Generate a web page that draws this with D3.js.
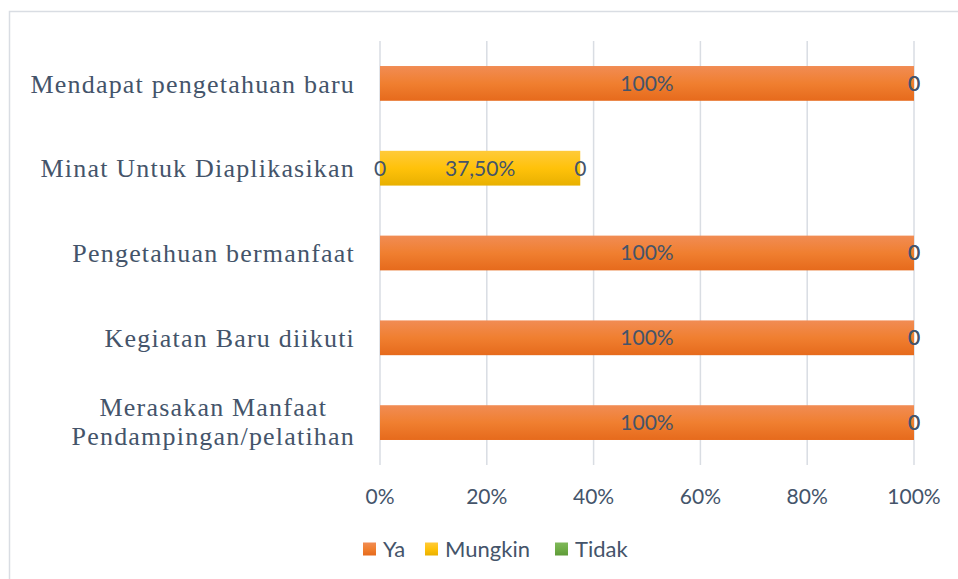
<!DOCTYPE html>
<html>
<head>
<meta charset="utf-8">
<script src="https://cdn.jsdelivr.net/npm/d3@7"></script>
<style>
  body { margin: 0; background: #fff; }
  svg { display: block; }
</style>
</head>
<body>
<svg id="canvas" width="958" height="579"></svg>
<script>
// data (top to bottom)
var categories = [
  ["Mendapat pengetahuan baru"],
  ["Minat Untuk Diaplikasikan"],
  ["Pengetahuan bermanfaat"],
  ["Kegiatan Baru diikuti"],
  ["Merasakan Manfaat", "Pendampingan/pelatihan"]
];
var series_names = ["Ya", "Mungkin", "Tidak"];
var ya      = [100, 0, 100, 100, 100];
var mungkin = [0, 37.5, 0, 0, 0];
var tidak   = [0, 0, 0, 0, 0];
var value_labels = [
  ["100%", "0", "0"],
  ["0", "37,50%", "0"],
  ["100%", "0", "0"],
  ["100%", "0", "0"],
  ["100%", "0", "0"]
];
var x_ticks = [0, 20, 40, 60, 80, 100];

var text_color = "#44546a";
var sans = "Lato, 'Open Sans', sans-serif";
var svg = d3.select("#canvas");

// gradients
var defs = svg.append("defs");
function grad(id, top, mid, bot) {
  var g = defs.append("linearGradient").attr("id", id).attr("x1", 0).attr("y1", 0).attr("x2", 0).attr("y2", 1);
  g.append("stop").attr("offset", "0%").attr("stop-color", top);
  g.append("stop").attr("offset", "50%").attr("stop-color", mid);
  g.append("stop").attr("offset", "100%").attr("stop-color", bot);
}
grad("g_ya", "#f18c54", "#f07f30", "#e66a1c");
grad("g_mungkin", "#ffca3a", "#ffc20a", "#e8b000");
grad("g_tidak", "#7fb85a", "#70ad47", "#5e9a38");
var fills = ["url(#g_ya)", "url(#g_mungkin)", "url(#g_tidak)"];

// frame
svg.append("rect").attr("x", 9.5).attr("y", 11.5).attr("width", 960).attr("height", 580)
  .attr("fill", "none").attr("stroke", "#d9dde3").attr("stroke-width", 1.5);

// scales
var xScale = d3.scaleLinear().domain([0, 100]).range([380, 914]);
var yScale = d3.scaleBand().domain(d3.range(categories.length)).range([41, 465]).paddingInner(0.59).paddingOuter(0.295);

// gridlines
svg.append("g").selectAll("line").data(x_ticks).join("line")
  .attr("x1", d => xScale(d)).attr("x2", d => xScale(d))
  .attr("y1", 41).attr("y2", 465)
  .attr("stroke", "#d9dde3").attr("stroke-width", 1.5);

// stacked bars
var rows = categories.map(function(c, i) { return [ya[i], mungkin[i], tidak[i]]; });
var stacked = [];
rows.forEach(function(r, i) {
  var acc = 0;
  r.forEach(function(v, s) {
    stacked.push({ row: i, s: s, x0: acc, x1: acc + v, label: value_labels[i][s] });
    acc += v;
  });
});

svg.append("g").selectAll("rect").data(stacked.filter(d => d.x1 > d.x0)).join("rect")
  .attr("x", d => xScale(d.x0))
  .attr("y", d => yScale(d.row))
  .attr("width", d => xScale(d.x1) - xScale(d.x0))
  .attr("height", yScale.bandwidth())
  .attr("fill", d => fills[d.s]);

// value labels
svg.append("g").selectAll("text").data(stacked).join("text")
  .attr("x", d => xScale((d.x0 + d.x1) / 2))
  .attr("y", d => yScale(d.row) + yScale.bandwidth() / 2)
  .attr("dy", "0.35em")
  .attr("text-anchor", "middle")
  .attr("font-family", sans)
  .attr("font-size", 21)
  .attr("fill", text_color)
  .text(d => d.label);

// category labels
var cat = svg.append("g").selectAll("text").data(categories).join("text")
  .attr("font-family", "'Liberation Serif', 'DejaVu Serif', serif")
  .attr("font-size", 26)
  .attr("letter-spacing", 1.2)
  .attr("fill", text_color)
  .attr("text-anchor", "end")
  .attr("transform", function(d, i) {
    var cy = yScale(i) + yScale.bandwidth() / 2;
    return "translate(355," + (cy - (d.length - 1) * 16) + ")";
  });
cat.each(function(d) {
  var t = d3.select(this);
  d.forEach(function(line, j) {
    t.append("tspan").attr("x", 0).attr("y", j * 29).attr("dy", "0.35em").text(line);
  });
});
// center multi-line labels on the longest line
cat.filter(d => d.length > 1).each(function(d) {
  var tspans = d3.select(this).selectAll("tspan").nodes();
  var widths = tspans.map(n => n.getComputedTextLength());
  var maxW = d3.max(widths);
  tspans.forEach(function(n, j) {
    d3.select(n).attr("x", -(maxW - widths[j]) / 2);
  });
});

// x axis labels
svg.append("g").selectAll("text").data(x_ticks).join("text")
  .attr("x", d => xScale(d))
  .attr("y", 497)
  .attr("dy", "0.35em")
  .attr("text-anchor", "middle")
  .attr("font-family", sans)
  .attr("font-size", 21)
  .attr("fill", text_color)
  .text(d => d + "%");

// legend
var legend_x = [363, 425, 555];
var lg = svg.append("g").selectAll("g").data(series_names).join("g")
  .attr("transform", (d, i) => "translate(" + legend_x[i] + ",549)");
lg.append("rect").attr("x", 0).attr("y", -6.5).attr("width", 13).attr("height", 13)
  .attr("fill", (d, i) => fills[i]);
lg.append("text").attr("x", 20).attr("dy", "0.35em")
  .attr("font-family", sans)
  .attr("font-size", 22)
  .attr("fill", text_color)
  .text(d => d);
</script>
</body>
</html>
